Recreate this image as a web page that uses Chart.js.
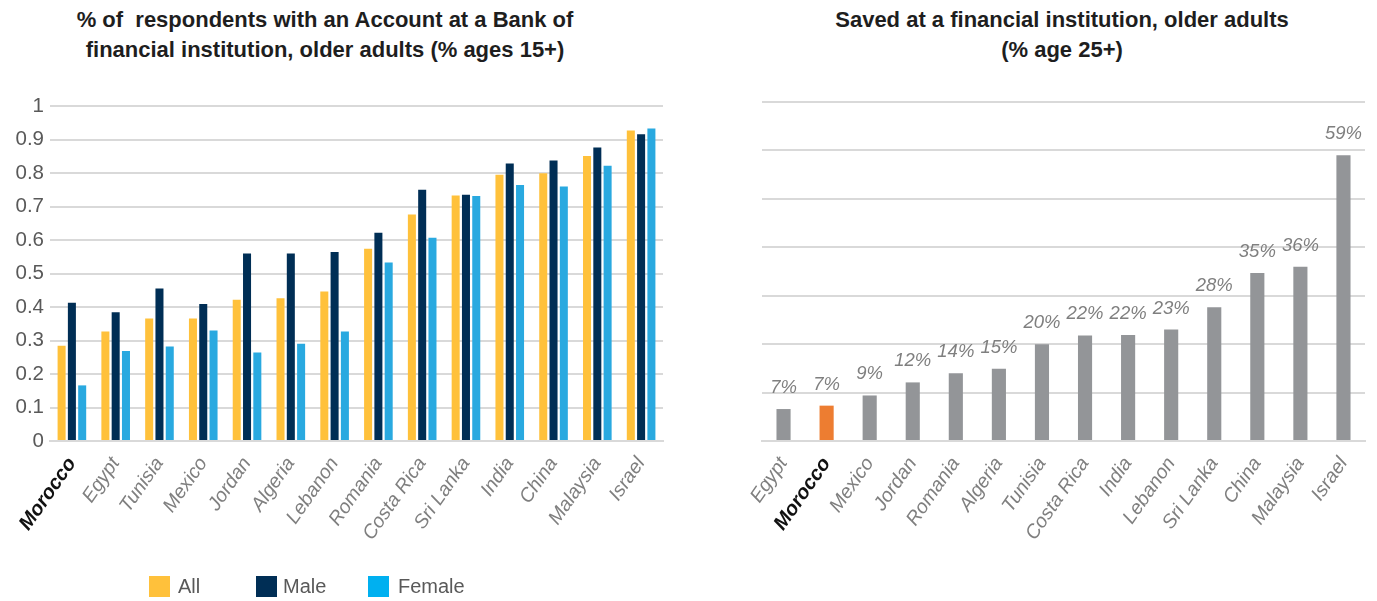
<!DOCTYPE html>
<html>
<head>
<meta charset="utf-8">
<script src="https://cdn.jsdelivr.net/npm/chart.js@4.4.0/dist/chart.umd.min.js"></script>
<style>
  body { margin: 0; width: 1377px; height: 601px; background: #fff; position: relative; overflow: hidden; font-family: "Liberation Sans", Arial, sans-serif; }
  .title { position: absolute; text-align: center; font-weight: bold; font-size: 22px; color: #1e1e1e; line-height: 30px; white-space: pre; }
  .box { position: absolute; top: 0; height: 601px; }
  .legend { position: absolute; top: 576px; font-size: 20px; color: #595959; }
  .legend span { position: absolute; white-space: nowrap; }
  .legend i { position: absolute; width: 21px; height: 21px; }
</style>
</head>
<body>

<div class="title" style="left:0;width:650px;top:5px">% of  respondents with an Account at a Bank of
financial institution, older adults (% ages 15+)</div>
<div class="title" style="left:747px;width:630px;top:5px">Saved at a financial institution, older adults
(% age 25+)</div>

<div class="box" style="left:0;width:680px"><canvas id="accountChart" width="680" height="601"></canvas></div>
<div class="box" style="left:697px;width:680px"><canvas id="savedChart" width="680" height="601"></canvas></div>

<div class="legend">
  <i style="left:149px;background:#FFC13B"></i><span style="left:178px;top:-1px">All</span>
  <i style="left:256px;background:#002E55"></i><span style="left:283px;top:-1px">Male</span>
  <i style="left:368px;background:#00B0F0"></i><span style="left:398px;top:-1px">Female</span>
</div>

<script>
// left chart: account ownership
const accountCountries = ['Morocco', 'Egypt', 'Tunisia', 'Mexico', 'Jordan', 'Algeria', 'Lebanon', 'Romania', 'Costa Rica', 'Sri Lanka', 'India', 'China', 'Malaysia', 'Israel'];
const allValues    = [0.284, 0.327, 0.366, 0.366, 0.422, 0.426, 0.446, 0.574, 0.676, 0.733, 0.795, 0.799, 0.851, 0.927];
const maleValues   = [0.413, 0.384, 0.455, 0.409, 0.560, 0.560, 0.564, 0.622, 0.750, 0.735, 0.828, 0.837, 0.876, 0.916];
const femaleValues = [0.166, 0.269, 0.282, 0.330, 0.264, 0.290, 0.327, 0.533, 0.607, 0.731, 0.764, 0.760, 0.822, 0.933];

// right chart: saved at a financial institution
const savedCountries = ['Egypt', 'Morocco', 'Mexico', 'Jordan', 'Romania', 'Algeria', 'Tunisia', 'Costa Rica', 'India', 'Lebanon', 'Sri Lanka', 'China', 'Malaysia', 'Israel'];
const savedValues = [0.066, 0.073, 0.094, 0.121, 0.14, 0.149, 0.2, 0.218, 0.219, 0.23, 0.276, 0.347, 0.36, 0.59];

const highlight = 'Morocco';
const gridColor = '#d9d9d9';

function labelFont(labels) {
  return (ctx) => labels[ctx.index] === highlight
    ? { family: '"Liberation Sans", Arial', size: 20, style: 'italic', weight: 'bold' }
    : { family: '"Liberation Sans", Arial', size: 19.5, style: 'italic' };
}
function labelColor(labels) {
  return (ctx) => labels[ctx.index] === highlight ? '#111111' : '#7f7f7f';
}

new Chart(document.getElementById('accountChart'), {
  type: 'bar',
  data: {
    labels: accountCountries,
    datasets: [
      { label: 'All', data: allValues, backgroundColor: '#FFC13B' },
      { label: 'Male', data: maleValues, backgroundColor: '#002E55' },
      { label: 'Female', data: femaleValues, backgroundColor: '#29A9E0' },
    ]
  },
  options: {
    responsive: false,
    animation: false,
    layout: { padding: { top: 106, right: 17, left: 0, bottom: 0 } },
    datasets: { bar: { categoryPercentage: 0.705, barPercentage: 0.78 } },
    plugins: { legend: { display: false }, tooltip: { enabled: false } },
    scales: {
      x: {
        grid: { display: false },
        border: { color: gridColor, width: 2 },
        ticks: { maxRotation: 55, minRotation: 55, padding: 4, font: labelFont(accountCountries), color: labelColor(accountCountries) },
        afterFit: (s) => { s.height = 160; }
      },
      y: {
        min: 0, max: 1,
        grid: { color: gridColor, lineWidth: 2, drawTicks: false },
        border: { display: false },
        ticks: {
          stepSize: 0.1, padding: 6, color: '#595959',
          font: { family: '"Liberation Sans", Arial', size: 20.5 },
          callback: (v) => String(+v.toFixed(1))
        },
        afterFit: (s) => { s.width = 50; }
      }
    }
  }
});

// draws the % value above each bar
const barLabels = {
  id: 'barLabels',
  afterDatasetsDraw(chart) {
    const ctx = chart.ctx;
    const meta = chart.getDatasetMeta(0);
    ctx.save();
    ctx.font = 'italic 18.5px "Liberation Sans", Arial';
    ctx.fillStyle = '#7f7f7f';
    ctx.textAlign = 'center';
    ctx.textBaseline = 'bottom';
    meta.data.forEach((bar, i) => {
      ctx.fillText(Math.round(savedValues[i] * 100) + '%', bar.x, bar.y - 12);
    });
    ctx.restore();
  }
};

new Chart(document.getElementById('savedChart'), {
  type: 'bar',
  data: {
    labels: savedCountries,
    datasets: [{
      label: 'Saved',
      data: savedValues,
      backgroundColor: savedCountries.map(c => c === highlight ? '#ED7D31' : '#939598')
    }]
  },
  options: {
    responsive: false,
    animation: false,
    layout: { padding: { top: 102, right: 12, left: 0, bottom: 0 } },
    datasets: { bar: { categoryPercentage: 0.8, barPercentage: 0.41 } },
    plugins: { legend: { display: false }, tooltip: { enabled: false } },
    scales: {
      x: {
        grid: { display: false },
        border: { color: gridColor, width: 2 },
        ticks: { maxRotation: 55, minRotation: 55, padding: 4, font: labelFont(savedCountries), color: labelColor(savedCountries) },
        afterFit: (s) => { s.height = 160; }
      },
      y: {
        min: 0, max: 0.7,
        grid: { color: gridColor, lineWidth: 2, drawTicks: false },
        border: { display: false },
        ticks: { stepSize: 0.1, display: false },
        afterFit: (s) => { s.width = 65; }
      }
    }
  },
  plugins: [barLabels]
});
</script>
</body>
</html>
